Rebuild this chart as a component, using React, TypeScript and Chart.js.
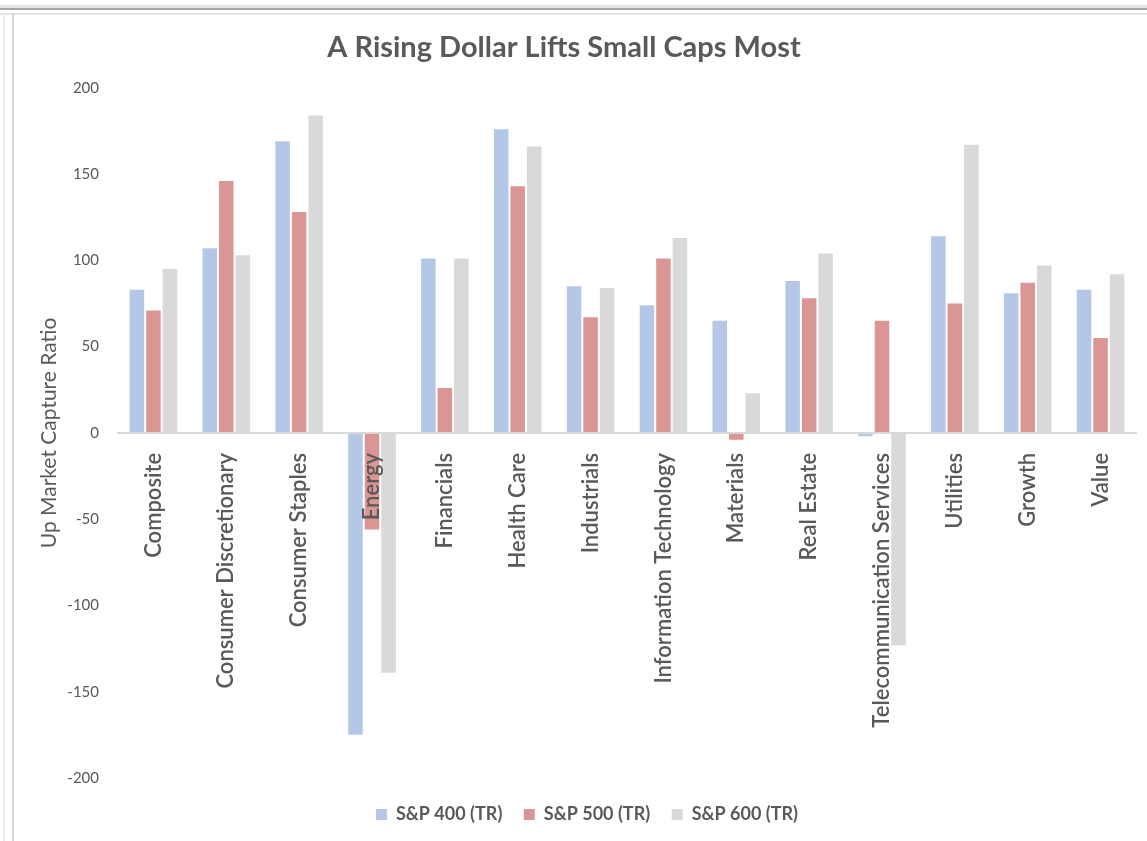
import React, { useEffect, useRef } from "react";
import { Chart, registerables } from "chart.js";

Chart.register(...registerables);

const categories = [
  "Composite",
  "Consumer Discretionary",
  "Consumer Staples",
  "Energy",
  "Financials",
  "Health Care",
  "Industrials",
  "Information Technology",
  "Materials",
  "Real Estate",
  "Telecommunication Services",
  "Utilities",
  "Growth",
  "Value",
];

const seriesNames = ["S&P 400 (TR)", "S&P 500 (TR)", "S&P 600 (TR)"];
const sp400 = [83, 107, 169, -175, 101, 176, 85, 74, 65, 88, -2, 114, 81, 83];
const sp500 = [71, 146, 128, -56, 26, 143, 67, 101, -4, 78, 65, 75, 87, 55];
const sp600 = [95, 103, 184, -139, 101, 166, 84, 113, 23, 104, -123, 167, 97, 92];
const seriesColors = ["#B4C7E7", "#DA9694", "#D9D9D9"];

const yMin = -200;
const yMax = 200;
const yStep = 50;

const TEXT = "#595959";
const FONT = "Lato, 'Open Sans', sans-serif";

const framePlugin = {
  id: "frame",
  afterLayout(chart: any) {
    if (chart.legend) {
      chart.legend.left += 46;
    }
  },
  beforeDraw(chart: any) {
    const { ctx, width, height } = chart;
    ctx.save();
    ctx.fillStyle = "#ffffff";
    ctx.fillRect(0, 0, width, height);
    ctx.fillStyle = "#e3e3e3";
    ctx.fillRect(0, 5, width, 3);
    ctx.fillStyle = "#a6a6a6";
    ctx.fillRect(0, 8, width, 2);
    ctx.fillStyle = "#e6e6e6";
    ctx.fillRect(0, 13, width, 2);
    ctx.fillStyle = "#ececec";
    ctx.fillRect(3, 13, 2, height - 13);
    ctx.fillStyle = "#d6d6d6";
    ctx.fillRect(12, 13, 2, height - 13);
    ctx.restore();
  },
};

const categoryLabelPlugin = {
  id: "categoryLabels",
  afterDatasetsDraw(chart: any) {
    const { ctx } = chart;
    const xs = chart.scales.x;
    const ys = chart.scales.y;
    const y0 = ys.getPixelForValue(0);
    ctx.save();
    ctx.fillStyle = TEXT;
    ctx.font = `600 22px ${FONT}`;
    ctx.textAlign = "right";
    ctx.textBaseline = "middle";
    categories.forEach((label, i) => {
      const x = xs.getPixelForValue(i);
      ctx.save();
      ctx.translate(x, y0 + 20);
      ctx.rotate(-Math.PI / 2);
      ctx.fillText(label, 0, 0);
      ctx.restore();
    });
    ctx.restore();
  },
};

export default function App() {
  const ref = useRef<HTMLCanvasElement | null>(null);

  useEffect(() => {
    document.body.style.margin = "0";
    if (!ref.current) return;
    const data = [sp400, sp500, sp600];
    const chart = new Chart(ref.current, {
      type: "bar",
      data: {
        labels: categories,
        datasets: seriesNames.map((name, i) => ({
          label: name,
          data: data[i],
          backgroundColor: seriesColors[i],
          borderWidth: 0,
          barPercentage: 0.88,
          categoryPercentage: 0.68,
        })),
      },
      options: {
        responsive: false,
        animation: false,
        layout: { padding: { top: 10, left: -9, right: 10, bottom: 7.5 } },
        plugins: {
          title: {
            display: true,
            text: "A Rising Dollar Lifts Small Caps Most",
            color: TEXT,
            font: { family: FONT, size: 29, weight: "bold", lineHeight: 1.2 },
            padding: { top: 20, bottom: 23 },
          },
          legend: {
            display: true,
            position: "bottom",
            labels: {
              color: TEXT,
              font: { family: FONT, size: 18, weight: "bold" },
              boxWidth: 11,
              boxHeight: 11,
              padding: 21.5,
            },
          },
          tooltip: { enabled: false },
        },
        scales: {
          x: {
            display: true,
            grid: { display: false, drawTicks: false },
            border: { display: false },
            ticks: { display: false },
            afterFit: (scale: any) => {
              scale.height = 6;
            },
          },
          y: {
            min: yMin,
            max: yMax,
            grid: {
              drawTicks: false,
              color: (c: any) => (c.tick && c.tick.value === 0 ? "#d9d9d9" : "rgba(0,0,0,0)"),
              lineWidth: 2,
            },
            border: { display: false },
            ticks: {
              stepSize: yStep,
              color: TEXT,
              padding: 18,
              font: { family: FONT, size: 15 },
            },
            title: {
              display: true,
              text: "Up Market Capture Ratio",
              color: TEXT,
              font: { family: FONT, size: 21 },
              padding: { top: 46, bottom: 0 },
            },
            afterFit: (scale: any) => {
              scale.width = 126;
            },
          },
        },
      },
      plugins: [framePlugin, categoryLabelPlugin],
    });
    return () => chart.destroy();
  }, []);

  return (
    <div style={{ width: 1147, height: 841 }}>
      <canvas ref={ref} width={1147} height={841} style={{ display: "block" }} />
    </div>
  );
}
